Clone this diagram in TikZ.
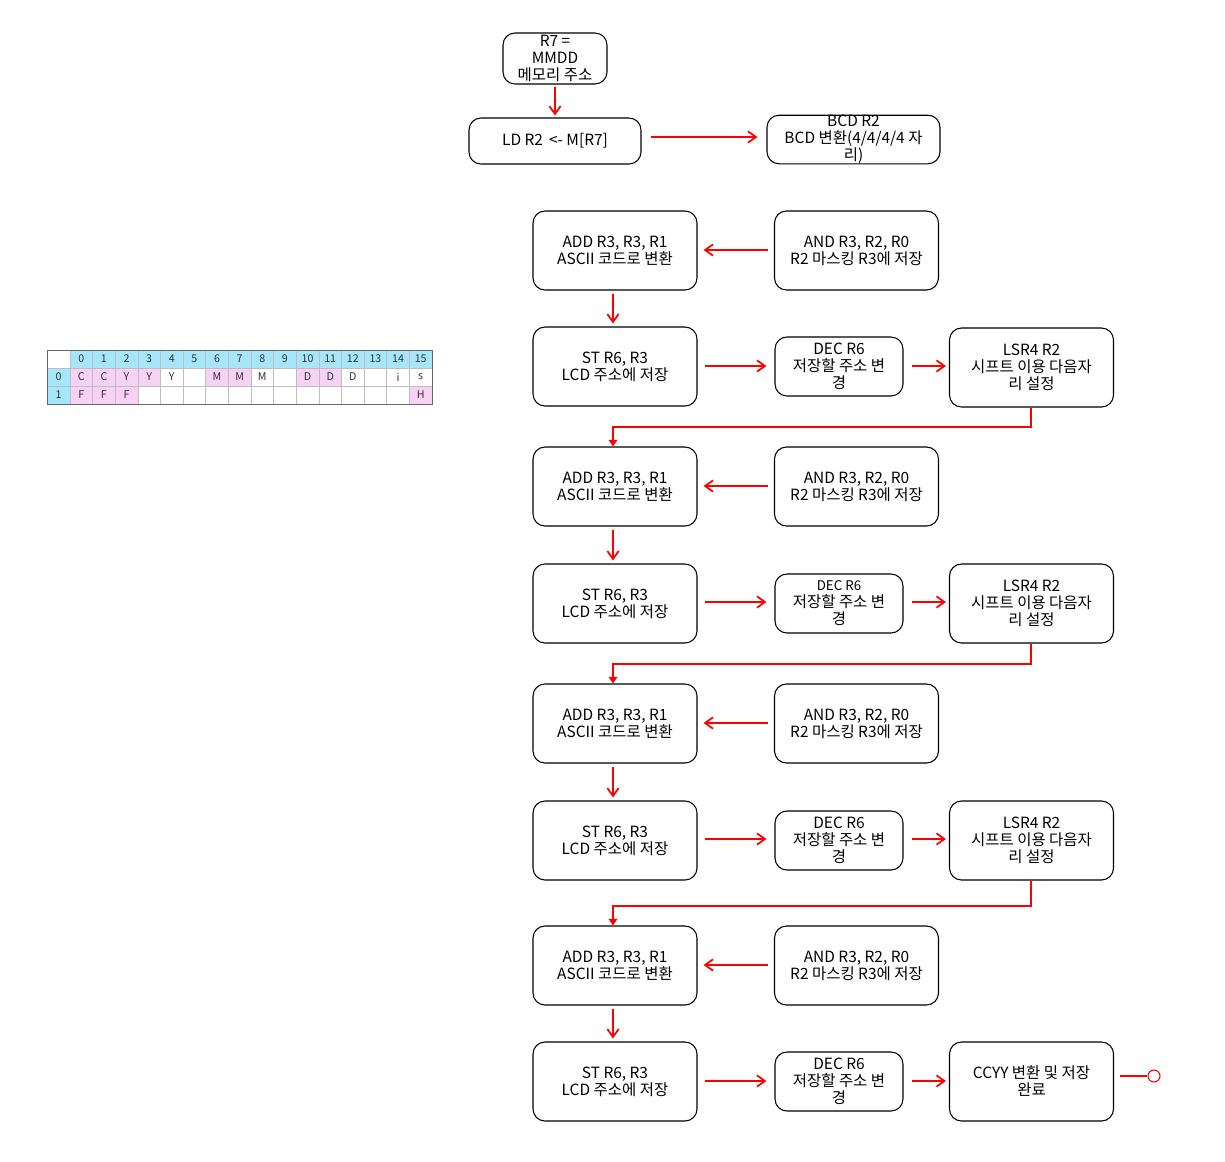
\documentclass[tikz,border=0pt]{standalone}
\usepackage{fontspec}
\setmainfont{Noto Sans CJK KR}
\usetikzlibrary{arrows.meta}
\definecolor{cellblue}{RGB}{166,230,250}
\definecolor{cellpink}{RGB}{248,210,244}
\definecolor{gridgrey}{RGB}{190,190,190}
\begin{document}
\begin{tikzpicture}[x=0.75pt,y=-0.75pt,
  stepbox/.style={draw, line width=0.8pt, rounded corners=9pt, align=center, inner sep=0pt,
    font=\fontsize{11.6}{12.75}\selectfont},
  wbox/.style={stepbox, minimum width=164*0.75pt, minimum height=79*0.75pt},
  sbox/.style={stepbox, minimum width=128*0.75pt, minimum height=59*0.75pt},
  flow/.style={draw=red, line width=1.5pt, -{Straight Barb[length=6pt,width=8.5pt,line width=1.3pt]}},
  jump/.style={draw=red, line width=1.5pt, -{Triangle[length=5pt,width=6.5pt]}},
  tcell/.style={inner sep=0pt, font=\fontsize{8}{9}\selectfont, text=black!80},
]
\useasboundingbox (0,0) rectangle (1225,1161);

% ---------- top ----------
\node[stepbox, minimum width=104*0.75pt, minimum height=51*0.75pt] (r7) at (555,58.5) {R7 =\\MMDD\\메모리 주소};
\node[stepbox, minimum width=172*0.75pt, minimum height=46*0.75pt] (ld) at (555,141) {LD R2 \,<- M[R7]};
\node[stepbox, minimum width=173*0.75pt, minimum height=47*0.75pt] (bcd) at (853.5,139.5) {BCD R2\\BCD 변환(4/4/4/4 자\\리)};
\draw[flow, shorten <=1.5pt, shorten >=1.5pt] (r7) -- (ld);
\draw[flow, shorten <=6.75pt, shorten >=6.75pt] (ld.east |- 0,137) -- (bcd.west |- 0,137);

% ---------- rows ----------
\foreach \i/\ya/\ys/\yA/\yS/\small in {1/250.5/366.5/250/366/0, 2/486.5/603.5/486/602/1, 3/723.5/840.5/723/839/0, 4/965.5/1081.5/965/1081/0}{
  \node[wbox] (add\i) at (615,\ya) {ADD R3, R3, R1\\ASCII 코드로 변환};
  \node[wbox] (and\i) at (856.5,\ya) {AND R3, R2, R0\\R2 마스킹 R3에 저장};
  \node[wbox] (st\i) at (615,\ys) {ST R6, R3\\LCD 주소에 저장};
  \ifnum\small=1
    \node[sbox] (dec\i) at (839,\ys) {{\fontsize{10}{12}\selectfont DEC R6}\\저장할 주소 변\\경};
  \else
    \node[sbox] (dec\i) at (839,\ys) {DEC R6\\저장할 주소 변\\경};
  \fi
  \draw[flow, shorten <=4.5pt, shorten >=4.5pt] (and\i.west |- 0,\yA) -- (add\i.east |- 0,\yA);
  \draw[flow, shorten <=2.25pt, shorten >=2.25pt] (add\i.south -| 613,0) -- (st\i.north -| 613,0);
  \draw[flow, shorten <=5.25pt, shorten >=6pt] (st\i.east |- 0,\yS) -- (dec\i.west |- 0,\yS);
}
\foreach \i/\ys/\yS in {1/367.5/366,2/603.5/602,3/840.5/839}{
  \node[wbox] (lsr\i) at (1031.5,\ys) {LSR4 R2\\시프트 이용 다음자\\리 설정};
  \draw[flow, shorten <=6pt, shorten >=2.25pt] (dec\i.east |- 0,\yS) -- (lsr\i.west |- 0,\yS);
}
\node[wbox] (done) at (1031.5,1081.5) {CCYY 변환 및 저장\\완료};
\draw[flow, shorten <=6pt, shorten >=2.25pt] (dec4.east |- 0,1081) -- (done.west |- 0,1081);

\draw[jump] (lsr1.south -| 1031,0) -- (1031,427) -| (add2.north -| 613,0);
\draw[jump] (lsr2.south -| 1031,0) -- (1031,664) -| (add3.north -| 613,0);
\draw[jump] (lsr3.south -| 1031,0) -- (1031,906) -| (add4.north -| 613,0);

\node[circle, draw=red, fill=white, line width=0.8pt, minimum size=12*0.75pt, inner sep=0pt] (fin) at (1154,1076) {};
\coordinate (dstart) at (1120,1076);
\draw[red, line width=1.5pt] (dstart) -- (fin.west);

% ---------- table ----------
\def\cw{22.625}
\foreach \c in {0,...,15}{
  \fill[cellblue] ({70+\c*\cw},350) rectangle ({70+(\c+1)*\cw},368);
}
\fill[cellblue] (47,368) rectangle (70,404);
\foreach \c in {0,1,2,3,6,7,10,11}{
  \fill[cellpink] ({70+\c*\cw},368) rectangle ({70+(\c+1)*\cw},386);
}
\foreach \c in {0,1,2,15}{
  \fill[cellpink] ({70+\c*\cw},386) rectangle ({70+(\c+1)*\cw},404);
}
\foreach \c in {0,...,16}{
  \draw[gridgrey, line width=0.5pt] ({70+\c*\cw},350) -- ({70+\c*\cw},404);
}
\draw[gridgrey, line width=0.5pt] (47,368) -- (432,368);
\draw[gridgrey, line width=0.5pt] (47,386) -- (432,386);
\draw[black!60, line width=0.6pt] (47,350) rectangle (432,404);
\foreach \c in {0,...,15}{
  \node[tcell] (h\c) at ({70+(\c+0.5)*\cw},359) {\c};
}
\node[tcell] (r0) at (58.5,377) {0};
\node[tcell] (r1) at (58.5,395) {1};
\foreach \c/\t in {0/C,1/C,2/Y,3/Y,4/Y,6/M,7/M,8/M,10/D,11/D,12/D,14/i,15/s}{
  \node[tcell] (a\c) at ({70+(\c+0.5)*\cw},377) {\t};
}
\foreach \c/\t in {0/F,1/F,2/F,15/H}{
  \node[tcell] (b\c) at ({70+(\c+0.5)*\cw},395) {\t};
}
\end{tikzpicture}
\end{document}
